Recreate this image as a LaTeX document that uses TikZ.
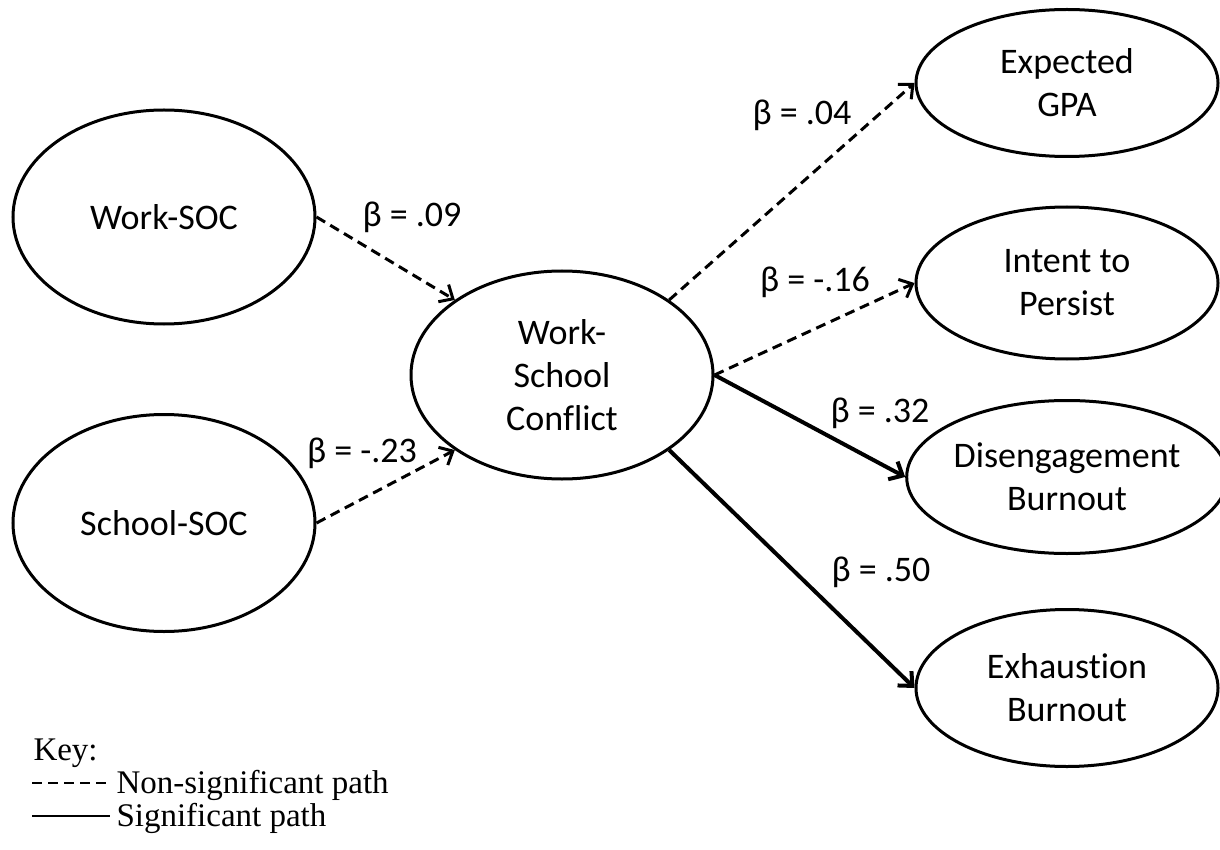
\documentclass[tikz,border=0pt]{standalone}
\usepackage{fontspec}
\setmainfont{Liberation Serif}
\newfontfamily\calib[Ligatures=NoCommon]{Carlito}
\usetikzlibrary{shapes.geometric,arrows.meta}

\begin{document}
\begin{tikzpicture}[x=1pt, y=-1pt, line width=3pt,
	main/.style = {draw, ellipse, minimum width=302pt, inner sep=0pt, align=center, font=\calib\fontsize{36}{43}\selectfont},
	beta/.style = {inner sep=0pt, font=\calib\fontsize{36}{40}\selectfont},
	link/.style = {-{Straight Barb[length=11pt,width=20pt]}},
	nonsig/.style = {link, dash pattern=on 10pt off 6pt},
	sig/.style = {link, line width=4pt},
	key/.style = {anchor=west, inner sep=0pt, font=\fontsize{33}{33}\selectfont}]

	\useasboundingbox (0,0) rectangle (1220,850);

	% latent variables
	\node[main, minimum height=214pt] (W) at (164,217) {Work-SOC};
	\node[main, minimum height=217pt] (S) at (164,523) {School-SOC};
	\node[main, minimum height=208pt] (C) at (562,375) {Work-\\School\\Conflict};
	\node[main, minimum height=147pt] (G) at (1067,83) {Expected\\GPA};
	\node[main, minimum height=152pt] (P) at (1067,283) {Intent to\\Persist};
	\node[main, minimum height=153pt] (D) at (1067,477) {Disengagement\\Burnout};
	\node[main, minimum height=157pt] (E) at (1067,688) {Exhaustion\\Burnout};

	% paths
	\draw[nonsig] (W.east) -- (C.145);
	\draw[nonsig] (S.east) -- (C.215);
	\draw[nonsig] (C.35) -- (G.west);
	\draw[nonsig] (C.east) -- (P.west);
	\draw[sig] (C.east) -- (D.west);
	\draw[sig] (C.325) -- (E.west);

	% coefficients
	\node[beta] (b1) at (412,217) {β = .09};
	\node[beta] (b2) at (362,453) {β = -.23};
	\node[beta] (b3) at (802,115) {β = .04};
	\node[beta] (b4) at (815,282) {β = -.16};
	\node[beta] (b5) at (880,413) {β = .32};
	\node[beta] (b6) at (881,572) {β = .50};

	% key
	\node[key] (k) at (32,753) {Key:};
	\coordinate (k1) at (32,783);
	\coordinate (k2) at (110,783);
	\coordinate (k3) at (32,816);
	\coordinate (k4) at (110,816);
	\draw[line width=1.5pt, dash pattern=on 10pt off 6pt] (k1) -- (k2);
	\draw[line width=2pt] (k3) -- (k4);
	\node[key] (kn) at (115,785) {Non-significant path};
	\node[key] (ks) at (115,818) {Significant path};
\end{tikzpicture}
\end{document}
